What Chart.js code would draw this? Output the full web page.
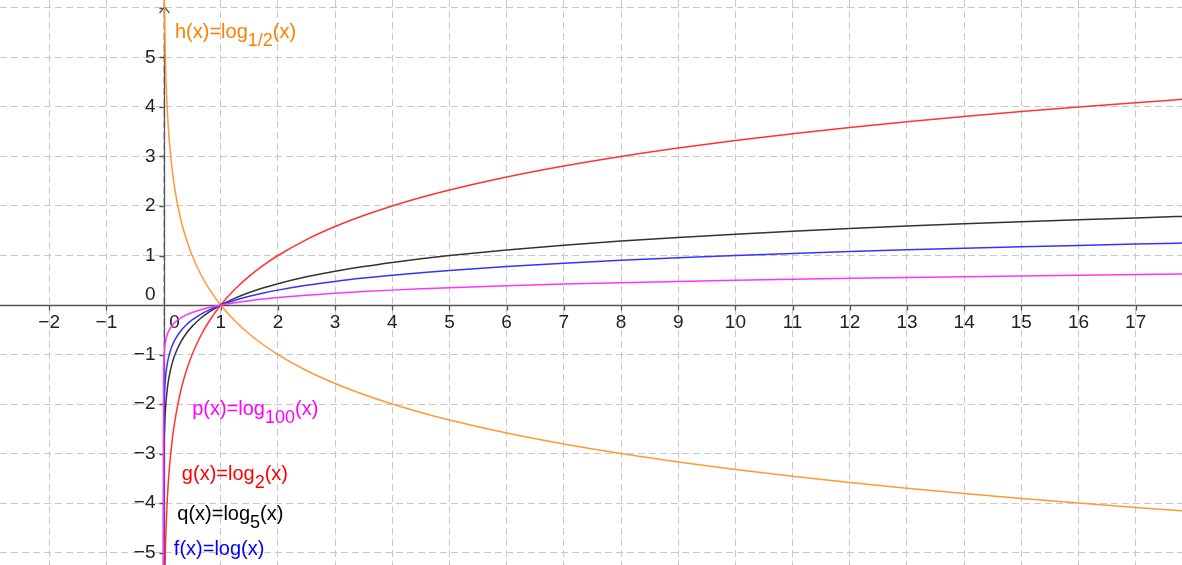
<!DOCTYPE html>
<html>
<head>
<meta charset="utf-8">
<script src="https://cdn.jsdelivr.net/npm/chart.js@4/dist/chart.umd.min.js"></script>
<style>
  body { margin: 0; background: #fff; }
  #wrap { width: 1182px; height: 565px; position: relative; }
</style>
</head>
<body>
<div id="wrap"><canvas id="logChart"></canvas></div>
<script>
// sample points (x, then y for each curve)
const xs    = [1e-12, 1e-6, 1e-4, 0.001, 0.005, 0.01, 0.02, 0.04, 0.07, 0.1, 0.15, 0.2, 0.3, 0.4, 0.5, 0.65, 0.8, 1, 1.25, 1.5, 1.75, 2, 2.5, 3, 3.5, 4, 4.5, 5, 6, 7, 8, 9, 10, 11, 12, 13, 14, 15, 16, 17, 18];
const gVals = [-39.863, -19.932, -13.288, -9.966, -7.644, -6.644, -5.644, -4.644, -3.837, -3.322, -2.737, -2.322, -1.737, -1.322, -1, -0.621, -0.322, 0, 0.322, 0.585, 0.807, 1, 1.322, 1.585, 1.807, 2, 2.17, 2.322, 2.585, 2.807, 3, 3.17, 3.322, 3.459, 3.585, 3.7, 3.807, 3.907, 4, 4.087, 4.17];
const hVals = [39.863, 19.932, 13.288, 9.966, 7.644, 6.644, 5.644, 4.644, 3.837, 3.322, 2.737, 2.322, 1.737, 1.322, 1, 0.621, 0.322, 0, -0.322, -0.585, -0.807, -1, -1.322, -1.585, -1.807, -2, -2.17, -2.322, -2.585, -2.807, -3, -3.17, -3.322, -3.459, -3.585, -3.7, -3.807, -3.907, -4, -4.087, -4.17];
const qVals = [-17.168, -8.584, -5.723, -4.292, -3.292, -2.861, -2.431, -2.0, -1.652, -1.431, -1.179, -1.0, -0.748, -0.569, -0.431, -0.268, -0.139, 0, 0.139, 0.252, 0.348, 0.431, 0.569, 0.683, 0.778, 0.861, 0.935, 1, 1.113, 1.209, 1.292, 1.365, 1.431, 1.49, 1.544, 1.594, 1.64, 1.683, 1.723, 1.76, 1.796];
const fVals = [-12, -6, -4, -3, -2.301, -2, -1.699, -1.398, -1.155, -1, -0.824, -0.699, -0.523, -0.398, -0.301, -0.187, -0.097, 0, 0.097, 0.176, 0.243, 0.301, 0.398, 0.477, 0.544, 0.602, 0.653, 0.699, 0.778, 0.845, 0.903, 0.954, 1, 1.041, 1.079, 1.114, 1.146, 1.176, 1.204, 1.23, 1.255];
const pVals = [-6, -3, -2, -1.5, -1.151, -1, -0.849, -0.699, -0.577, -0.5, -0.412, -0.349, -0.261, -0.199, -0.151, -0.094, -0.048, 0, 0.048, 0.088, 0.122, 0.151, 0.199, 0.239, 0.272, 0.301, 0.327, 0.349, 0.389, 0.423, 0.452, 0.477, 0.5, 0.521, 0.54, 0.557, 0.573, 0.588, 0.602, 0.615, 0.628];

const xRange = [-2.86, 17.81];
const yRange = [-5.25, 6.16];

// function labels: text pieces, anchor in graph units
const labels = [
  { parts: ["h(x)=log", "1/2", "(x)"], x: 0.2,  y: 5.39,  color: "#ff8000" },
  { parts: ["p(x)=log", "100", "(x)"], x: 0.5,  y: -2.22, color: "#ff00ff" },
  { parts: ["g(x)=log", "2", "(x)"],   x: 0.32, y: -3.54, color: "#ff0000" },
  { parts: ["q(x)=log", "5", "(x)"],   x: 0.24, y: -4.34, color: "#000000" },
  { parts: ["f(x)=log(x)"],            x: 0.18, y: -5.05, color: "#0000ff" }
];

const toPts = ys => xs.map((x, i) => ({ x: x, y: ys[i] }));

function line(ys, color) {
  return {
    data: toPts(ys),
    showLine: true,
    borderColor: color,
    borderWidth: 1.5,
    pointRadius: 0,
    cubicInterpolationMode: "monotone",
    fill: false
  };
}

const FONT = "'Liberation Sans', Arial, sans-serif";
const minus = s => String(s).replace("-", "\u2212");

// axes, ticks, arrow and labels drawn on top of the grid
const axesPlugin = {
  id: "axes",
  beforeDatasetsDraw(chart) {
    const { ctx, chartArea: a } = chart;
    const sx = chart.scales.x, sy = chart.scales.y;
    const x0 = Math.round(sx.getPixelForValue(0)) + 0.5;
    const y0 = Math.round(sy.getPixelForValue(0)) + 0.5;
    ctx.save();
    ctx.strokeStyle = "#555";
    ctx.lineWidth = 1.3;
    ctx.beginPath();
    ctx.moveTo(a.left, y0); ctx.lineTo(a.right, y0);
    ctx.moveTo(x0, a.top + 7); ctx.lineTo(x0, a.bottom);
    // arrow head
    ctx.moveTo(x0 - 5, a.top + 13); ctx.lineTo(x0, a.top + 7); ctx.lineTo(x0 + 5, a.top + 13);
    ctx.stroke();

    ctx.fillStyle = "#222";
    ctx.font = "19px " + FONT;
    ctx.beginPath();
    sx.ticks.forEach(t => {
      const px = Math.round(sx.getPixelForValue(t.value)) + 0.5;
      if (t.value === 0) return;
      ctx.moveTo(px, y0); ctx.lineTo(px, y0 + 5);
    });
    sy.ticks.forEach(t => {
      const py = Math.round(sy.getPixelForValue(t.value)) + 0.5;
      if (t.value === 0) return;
      ctx.moveTo(x0 - 5, py); ctx.lineTo(x0, py);
    });
    ctx.stroke();

    ctx.textAlign = "center";
    ctx.textBaseline = "middle";
    sx.ticks.forEach(t => {
      const px = sx.getPixelForValue(t.value);
      if (t.value === 0) {
        ctx.fillText("0", px + 11, y0 + 17);
      } else {
        ctx.fillText(minus(t.value), px, y0 + 17);
      }
    });
    ctx.textAlign = "right";
    sy.ticks.forEach(t => {
      const py = sy.getPixelForValue(t.value);
      if (t.value === 0) {
        ctx.fillText("0", x0 - 9, py - 10);
      } else if (t.value < 6) {
        ctx.fillText(minus(t.value), x0 - 9, py);
      }
    });
    ctx.restore();
  },
  afterDatasetsDraw(chart) {
    const { ctx } = chart;
    const sx = chart.scales.x, sy = chart.scales.y;
    ctx.save();
    ctx.textBaseline = "alphabetic";
    ctx.textAlign = "left";
    labels.forEach(l => {
      let px = sx.getPixelForValue(l.x);
      const py = sy.getPixelForValue(l.y);
      ctx.fillStyle = l.color;
      l.parts.forEach((p, i) => {
        const sub = i === 1;
        ctx.font = (sub ? "18px " : "20px ") + FONT;
        ctx.fillText(p, px, sub ? py + 8 : py);
        px += ctx.measureText(p).width;
      });
    });
    ctx.restore();
  }
};

const gridOpts = { color: "#c8c8c8", lineWidth: 1, drawTicks: false };

new Chart(document.getElementById("logChart"), {
  type: "scatter",
  data: {
    datasets: [
      line(pVals, "#ff33ff"),
      line(fVals, "#3333ff"),
      line(qVals, "#333333"),
      line(gVals, "#ff3333"),
      line(hVals, "#ff9933")
    ]
  },
  options: {
    responsive: true,
    maintainAspectRatio: false,
    animation: false,
    layout: { padding: 0 },
    plugins: { legend: { display: false }, tooltip: { enabled: false } },
    scales: {
      x: {
        type: "linear",
        min: xRange[0], max: xRange[1],
        ticks: { stepSize: 1, display: false, includeBounds: false },
        grid: gridOpts,
        border: { display: false, dash: [7, 4] }
      },
      y: {
        type: "linear",
        min: yRange[0], max: yRange[1],
        ticks: { stepSize: 1, display: false, includeBounds: false },
        grid: gridOpts,
        border: { display: false, dash: [7, 4] }
      }
    }
  },
  plugins: [axesPlugin]
});
</script>
</body>
</html>
